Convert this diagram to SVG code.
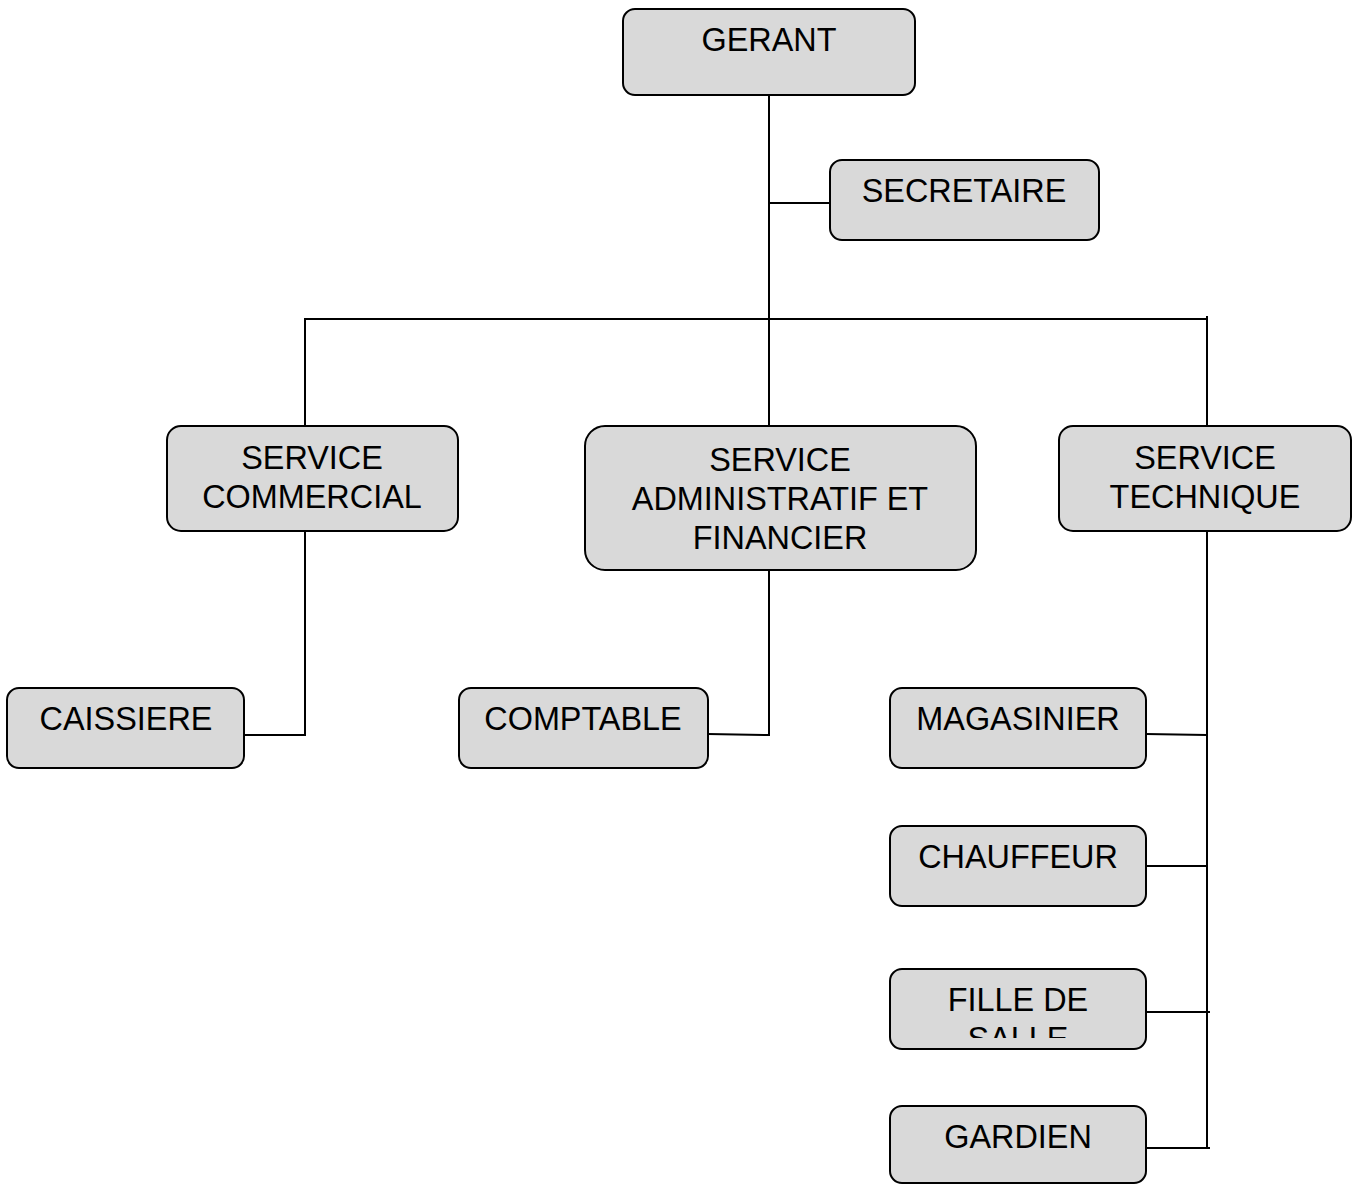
<svg xmlns="http://www.w3.org/2000/svg" width="1359" height="1184" viewBox="0 0 1359 1184">
<style>
.box{fill:#d9d9d9;stroke:#000;stroke-width:2}
.t{font-family:"Liberation Sans",Arial,sans-serif;font-size:32.4px;fill:#000;text-anchor:middle}
.c{stroke:#000;stroke-width:2;fill:none}
</style>
<defs>
<clipPath id="clipFille"><rect x="890" y="969" width="256" height="69"/></clipPath>
</defs>
<rect width="1359" height="1184" fill="#fff"/>
<g id="connectors">
<line class="c" x1="769" y1="95" x2="769" y2="426"/>
<line class="c" x1="769" y1="203" x2="830" y2="203"/>
<line class="c" x1="304" y1="319" x2="1208" y2="319"/>
<line class="c" x1="305" y1="318" x2="305" y2="426"/>
<line class="c" x1="1207" y1="316" x2="1207" y2="426"/>
<polyline class="c" points="305,531 305,735 244,735"/>
<polyline class="c" points="769,570 769,735 708,734"/>
<line class="c" x1="1207" y1="531" x2="1207" y2="1149"/>
<line class="c" x1="1146" y1="734" x2="1207" y2="735"/>
<line class="c" x1="1146" y1="866" x2="1207" y2="866"/>
<line class="c" x1="1146" y1="1012" x2="1210" y2="1012"/>
<line class="c" x1="1146" y1="1148" x2="1210" y2="1148"/>
</g>
<g id="gerant"><rect class="box" x="623" y="9" width="292" height="86" rx="12"/><text class="t" x="769" y="51">GERANT</text></g>
<g id="secretaire"><rect class="box" x="830" y="160" width="269" height="80" rx="12"/><text class="t" x="964" y="202">SECRETAIRE</text></g>
<g id="service-commercial"><rect class="box" x="167" y="426" width="291" height="105" rx="14"/><text class="t" x="312" y="469">SERVICE</text><text class="t" x="312" y="508">COMMERCIAL</text></g>
<g id="service-admin"><rect class="box" x="585" y="426" width="391" height="144" rx="20"/><text class="t" x="780" y="471">SERVICE</text><text class="t" x="780" y="510">ADMINISTRATIF ET</text><text class="t" x="780" y="549">FINANCIER</text></g>
<g id="service-technique"><rect class="box" x="1059" y="426" width="292" height="105" rx="14"/><text class="t" x="1205" y="469">SERVICE</text><text class="t" x="1205" y="508">TECHNIQUE</text></g>
<g id="caissiere"><rect class="box" x="7" y="688" width="237" height="80" rx="12"/><text class="t" x="126" y="730">CAISSIERE</text></g>
<g id="comptable"><rect class="box" x="459" y="688" width="249" height="80" rx="12"/><text class="t" x="583" y="730">COMPTABLE</text></g>
<g id="magasinier"><rect class="box" x="890" y="688" width="256" height="80" rx="12"/><text class="t" x="1018" y="730">MAGASINIER</text></g>
<g id="chauffeur"><rect class="box" x="890" y="826" width="256" height="80" rx="12"/><text class="t" x="1018" y="868">CHAUFFEUR</text></g>
<g id="fille-de-salle"><rect class="box" x="890" y="969" width="256" height="80" rx="12"/><text class="t" x="1018" y="1011">FILLE DE</text><text class="t" x="1018" y="1050" clip-path="url(#clipFille)">SALLE</text></g>
<g id="gardien"><rect class="box" x="890" y="1106" width="256" height="77" rx="12"/><text class="t" x="1018" y="1148">GARDIEN</text></g>
</svg>
